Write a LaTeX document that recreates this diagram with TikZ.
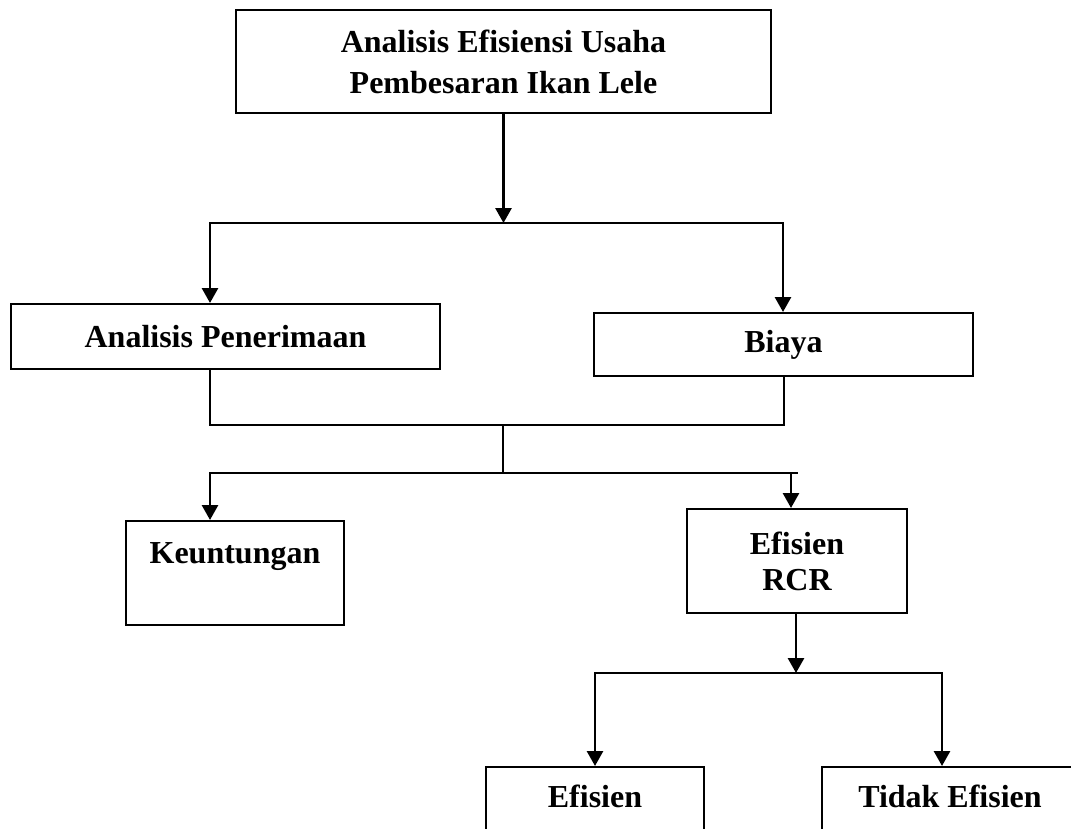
\documentclass[tikz,border=0pt]{standalone}
\usepackage{fontspec}
\setmainfont{Liberation Serif}
\usetikzlibrary{arrows.meta}
\begin{document}
\begin{tikzpicture}[x=1pt,y=-1pt,
  box/.style={draw, line width=2pt, inner sep=0pt, align=center,
    font=\fontsize{32}{38}\selectfont\bfseries},
  conn/.style={line width=2.8pt, line cap=rect},
  arr/.style={line width=2.8pt, -{Triangle[width=16pt,length=15pt]}},
  lbl/.style={inner sep=0pt, font=\fontsize{32}{38}\selectfont\bfseries}]
\useasboundingbox (0,0) rectangle (1071,828);
% boxes
\node[box, minimum width=535pt, minimum height=103pt,
  font=\fontsize{32}{41}\selectfont\bfseries] (top) at (503.5,61.5)
  {Analisis Efisiensi Usaha\\Pembesaran Ikan Lele};
\node[box, minimum width=429pt, minimum height=65pt] (pen) at (225.5,336.5) {Analisis Penerimaan};
\node[box, minimum width=379pt, minimum height=63pt] (biaya) at (783.5,344.5) {Biaya};
\node[box, minimum width=218pt, minimum height=104pt] (keu) at (235,573) {};
\node[lbl, anchor=base] (keut) at (235,563) {Keuntungan};
\node[box, minimum width=220pt, minimum height=104pt,
  font=\fontsize{32}{36}\selectfont\bfseries] (rcr) at (797,561) {Efisien\\RCR};
\node[box, minimum width=218pt, minimum height=140pt] (ef) at (595,837) {};
\node[lbl, anchor=base] (eft) at (595,807) {Efisien};
\node[box, minimum width=256pt, minimum height=140pt] (tdk) at (950,837) {};
\node[lbl, anchor=base] (tdkt) at (950,807) {Tidak Efisien};
% junctions
\coordinate (j1) at (503.5,223);
\coordinate (j1l) at (210,223);
\coordinate (j1r) at (783,223);
\coordinate (j2) at (503,425);
\coordinate (j2l) at (210,425);
\coordinate (j2r) at (784,425);
\coordinate (j3) at (503,473);
\coordinate (j3l) at (210,473);
\coordinate (j3r) at (797,473);
\coordinate (j3a) at (791,473);
\coordinate (j4) at (796,673);
\coordinate (j4l) at (595,673);
\coordinate (j4r) at (942,673);
% connectors
\draw[arr] (top.south) -- (j1);
\draw[conn] (j1l) -- (j1r);
\draw[arr] (j1l) -- (j1l |- pen.north);
\draw[arr] (j1r) -- (j1r |- biaya.north);
\draw[conn] (j2l |- pen.south) -- (j2l) -- (j2r) -- (j2r |- biaya.south);
\draw[conn] (j2) -- (j3);
\draw[conn] (j3l) -- (j3r);
\draw[arr] (j3l) -- (j3l |- keu.north);
\draw[arr] (j3a) -- (j3a |- rcr.north);
\draw[arr] (j4 |- rcr.south) -- (j4);
\draw[conn] (j4l) -- (j4r);
\draw[arr] (j4l) -- (j4l |- ef.north);
\draw[arr] (j4r) -- (j4r |- tdk.north);
\end{tikzpicture}
\end{document}
